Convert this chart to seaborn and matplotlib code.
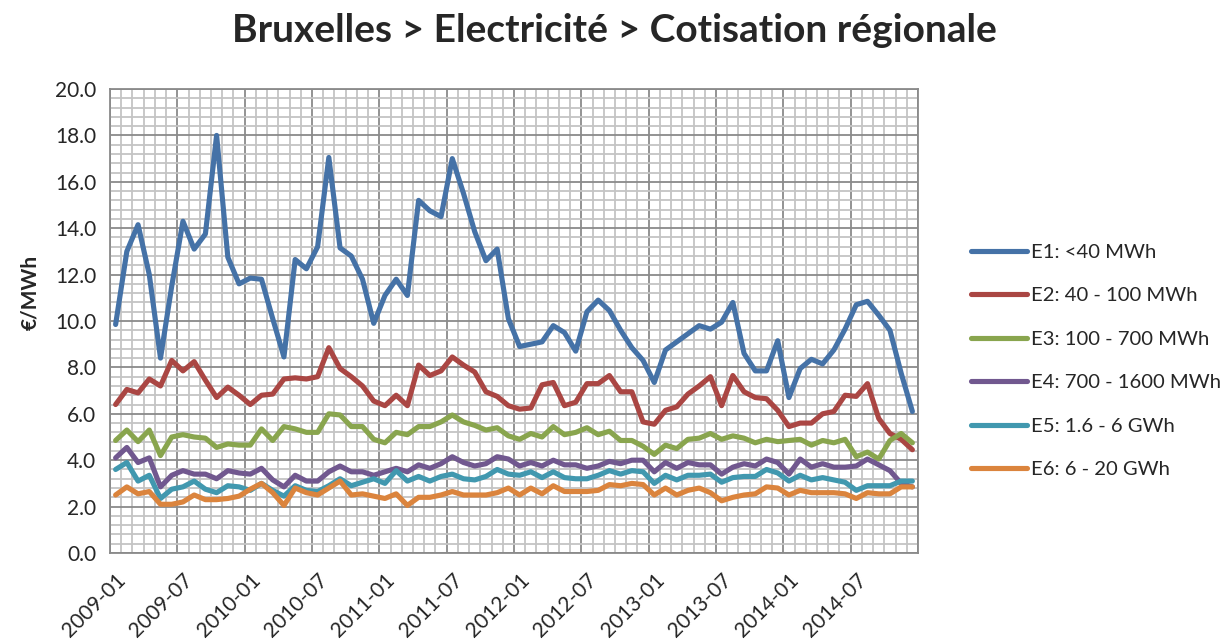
import numpy as np
import pandas as pd
import matplotlib
matplotlib.use("Agg")
import matplotlib.pyplot as plt
from matplotlib.ticker import FixedLocator, FormatStrFormatter, MultipleLocator
import seaborn as sns

# tarifs mensuels 2009-01 .. 2014-12 (€/MWh)
months = pd.period_range("2009-01", periods=72, freq="M").strftime("%Y-%m").tolist()

e1 = [9.85, 13.0, 14.15, 12.0, 8.4, 11.5, 14.3, 13.1, 13.75, 18.0, 12.75, 11.6,
      11.85, 11.8, 10.1, 8.45, 12.65, 12.25, 13.2, 17.05, 13.15, 12.8, 11.8, 9.9,
      11.1, 11.8, 11.1, 15.2, 14.75, 14.5, 17.0, 15.5, 13.85, 12.6, 13.1, 10.1,
      8.9, 9.0, 9.1, 9.8, 9.5, 8.7, 10.4, 10.9, 10.45, 9.6, 8.85, 8.3,
      7.35, 8.75, 9.1, 9.45, 9.8, 9.65, 9.95, 10.8, 8.6, 7.85, 7.85, 9.15,
      6.7, 7.95, 8.35, 8.15, 8.75, 9.65, 10.7, 10.85, 10.25, 9.6, 7.75, 6.1]
e2 = [6.4, 7.05, 6.9, 7.5, 7.2, 8.3, 7.85, 8.25, 7.45, 6.7, 7.15, 6.8,
      6.4, 6.8, 6.85, 7.5, 7.55, 7.5, 7.6, 8.85, 7.95, 7.6, 7.2, 6.55,
      6.35, 6.8, 6.35, 8.1, 7.65, 7.85, 8.45, 8.1, 7.8, 6.95, 6.75, 6.35,
      6.2, 6.25, 7.25, 7.35, 6.35, 6.5, 7.3, 7.3, 7.65, 6.95, 6.95, 5.65,
      5.55, 6.15, 6.3, 6.85, 7.2, 7.6, 6.35, 7.65, 6.95, 6.7, 6.65, 6.15,
      5.45, 5.6, 5.6, 6.0, 6.1, 6.8, 6.75, 7.3, 5.8, 5.15, 4.9, 4.45]
e3 = [4.85, 5.3, 4.8, 5.3, 4.2, 5.0, 5.1, 5.0, 4.95, 4.55, 4.7, 4.65,
      4.65, 5.35, 4.85, 5.45, 5.35, 5.2, 5.2, 6.0, 5.95, 5.45, 5.45, 4.9,
      4.75, 5.2, 5.1, 5.45, 5.45, 5.65, 5.95, 5.65, 5.5, 5.3, 5.4, 5.05,
      4.9, 5.15, 5.0, 5.45, 5.1, 5.2, 5.4, 5.1, 5.25, 4.85, 4.85, 4.6,
      4.25, 4.65, 4.5, 4.9, 4.95, 5.15, 4.9, 5.05, 4.95, 4.75, 4.9, 4.8,
      4.85, 4.9, 4.65, 4.85, 4.75, 4.9, 4.15, 4.35, 4.05, 4.85, 5.15, 4.75]
e4 = [4.1, 4.55, 3.9, 4.1, 2.85, 3.35, 3.55, 3.4, 3.4, 3.2, 3.55, 3.45,
      3.4, 3.65, 3.15, 2.85, 3.35, 3.1, 3.1, 3.5, 3.75, 3.5, 3.5, 3.35,
      3.5, 3.65, 3.5, 3.8, 3.65, 3.85, 4.15, 3.9, 3.75, 3.85, 4.15, 4.05,
      3.75, 3.9, 3.75, 4.0, 3.8, 3.8, 3.65, 3.75, 3.95, 3.85, 4.0, 4.0,
      3.5, 3.9, 3.65, 3.9, 3.8, 3.8, 3.4, 3.7, 3.85, 3.75, 4.05, 3.9,
      3.4, 4.05, 3.7, 3.85, 3.7, 3.7, 3.75, 4.05, 3.8, 3.55, 3.0, 2.85]
e5 = [3.6, 3.9, 3.1, 3.35, 2.35, 2.75, 2.85, 3.1, 2.75, 2.6, 2.9, 2.85,
      2.7, 3.0, 2.7, 2.45, 2.9, 2.7, 2.65, 2.9, 3.2, 2.9, 3.05, 3.2,
      3.0, 3.55, 3.1, 3.3, 3.1, 3.3, 3.4, 3.2, 3.15, 3.3, 3.6, 3.4,
      3.35, 3.5, 3.25, 3.5, 3.25, 3.2, 3.2, 3.35, 3.55, 3.4, 3.55, 3.5,
      3.0, 3.35, 3.15, 3.35, 3.35, 3.4, 3.05, 3.25, 3.3, 3.3, 3.6, 3.45,
      3.1, 3.35, 3.15, 3.25, 3.15, 3.05, 2.7, 2.9, 2.9, 2.9, 3.1, 3.1]
e6 = [2.5, 2.85, 2.55, 2.65, 2.1, 2.1, 2.2, 2.5, 2.3, 2.3, 2.35, 2.45,
      2.75, 3.0, 2.6, 2.05, 2.8, 2.6, 2.5, 2.8, 3.1, 2.5, 2.55, 2.45,
      2.35, 2.55, 2.05, 2.4, 2.4, 2.5, 2.65, 2.5, 2.5, 2.5, 2.6, 2.8,
      2.5, 2.8, 2.55, 2.9, 2.65, 2.65, 2.65, 2.7, 2.95, 2.9, 3.0, 2.95,
      2.5, 2.8, 2.5, 2.7, 2.8, 2.6, 2.25, 2.4, 2.5, 2.55, 2.85, 2.8,
      2.5, 2.7, 2.6, 2.6, 2.6, 2.55, 2.35, 2.6, 2.55, 2.55, 2.85, 2.85]

series_names = ["E1: <40 MWh", "E2: 40 - 100 MWh", "E3: 100 - 700 MWh",
                "E4: 700 - 1600 MWh", "E5: 1.6 - 6 GWh", "E6: 6 - 20 GWh"]
colors = ["#4572A7", "#AA4643", "#89A54E", "#71588F", "#4198AF", "#DB843D"]
tick_labels = ["2009-01", "2009-07", "2010-01", "2010-07", "2011-01", "2011-07",
               "2012-01", "2012-07", "2013-01", "2013-07", "2014-01", "2014-07"]

rows = []
for name, vals in zip(series_names, [e1, e2, e3, e4, e5, e6]):
    for i, v in enumerate(vals):
        rows.append({"idx": i, "mois": months[i], "serie": name, "valeur": v})
df = pd.DataFrame(rows)

sns.set_style("white")
plt.rcParams["font.family"] = ["Lato", "DejaVu Sans"]

fig = plt.figure(figsize=(12.31, 6.42), dpi=100)
ax = fig.add_axes([110 / 1231, 1 - 553 / 642, 808 / 1231, 464 / 642])

sns.lineplot(data=df, x="idx", y="valeur", hue="serie", palette=colors,
             linewidth=3.7, ax=ax, legend=False,
             solid_joinstyle="round", solid_capstyle="round")

n = len(months)
ax.set_xlim(-0.5, n - 0.5)
ax.set_ylim(0, 20)

# grille type Excel
ax.xaxis.set_major_locator(FixedLocator(np.arange(-0.5, n, 6)))
ax.xaxis.set_minor_locator(FixedLocator(np.arange(-0.5, n, 1)))
ax.set_xticklabels([])
ax.yaxis.set_major_locator(MultipleLocator(2))
ax.yaxis.set_minor_locator(MultipleLocator(0.4))
ax.yaxis.set_major_formatter(FormatStrFormatter("%.1f"))
ax.grid(which="major", color="#8a8a8a", linewidth=1.3)
ax.grid(which="minor", color="#c4c4c4", linewidth=1.3)
ax.set_axisbelow(True)
ax.tick_params(axis="both", which="major", direction="out", length=6,
               width=1.2, color="#8a8a8a", labelsize=15, pad=4)
ax.tick_params(axis="both", which="minor", length=0)
for s in ax.spines.values():
    s.set_color("#8a8a8a")
    s.set_linewidth(1.3)

secax = ax.secondary_xaxis("bottom")
secax.set_xticks(np.arange(0, n, 6))
secax.set_xticklabels(tick_labels, rotation=45, ha="right",
                      rotation_mode="anchor", fontsize=15)
secax.tick_params(length=0, pad=12)
secax.spines["bottom"].set_visible(False)

ax.set_xlabel("")
ax.set_ylabel("")
fig.text(30 / 1231, 1 - 292 / 642, "€/MWh", rotation=90, ha="center",
         va="center", fontsize=15, fontweight="bold")

fig.suptitle("Bruxelles > Electricité > Cotisation régionale", x=0.499,
             y=1 - 31 / 642, va="center", fontsize=28, fontweight="bold")

handles = [plt.Line2D([], [], color=c, lw=3.7, solid_capstyle="round")
           for c in colors]
fig.legend(handles, series_names, loc="center left",
           bbox_to_anchor=(971 / 1231, 1 - 361 / 642), frameon=False,
           fontsize=14.6, handlelength=2.75, handletextpad=0.2,
           labelspacing=1.3, borderpad=0, borderaxespad=0)

fig.savefig("out.png", dpi=100)
